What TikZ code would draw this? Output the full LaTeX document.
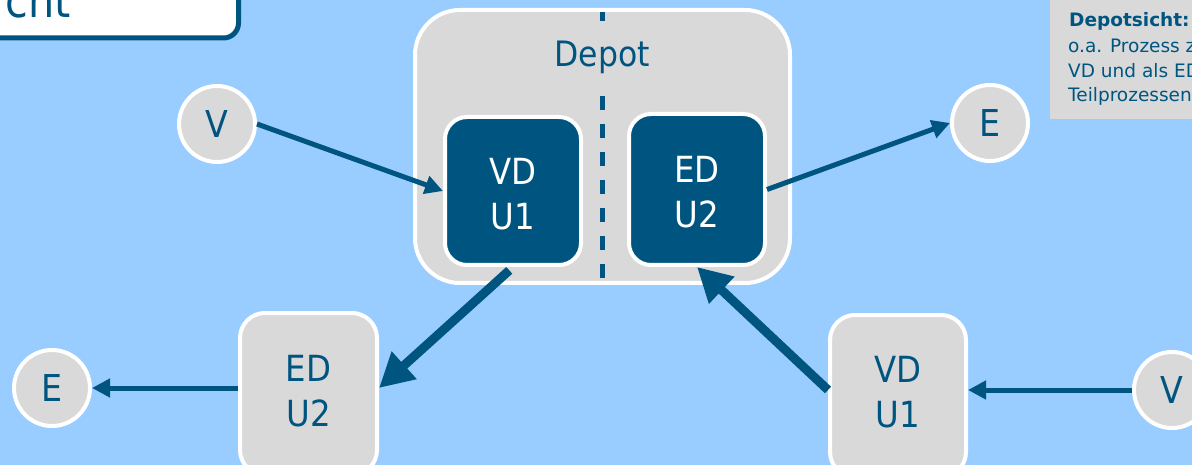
\documentclass[tikz,border=0pt]{standalone}
\usepackage{fontspec}
\setmainfont{DejaVu Sans Condensed}
\newfontfamily\notefont{DejaVu Sans}
\usetikzlibrary{arrows.meta,calc}
\definecolor{bgblue}{RGB}{153,204,255}
\definecolor{dkblue}{RGB}{0,85,128}
\definecolor{ltgray}{RGB}{217,217,217}
\newcommand\myfs[2]{\fontsize{#1}{#2}\selectfont}
\begin{document}
\begin{tikzpicture}[x=1pt,y=-1pt,
  wbox/.style={draw=white, line width=4pt, rectangle, inner sep=0pt},
  circ/.style={draw=white, line width=4pt, circle, fill=ltgray, minimum size=76pt, inner sep=0pt, text=dkblue, font=\myfs{37}{45}},
  lbltext/.style={inner sep=0pt, align=center, font=\myfs{36}{45}},
  notetext/.style={anchor=base west, inner sep=0pt, text=dkblue, font=\notefont\myfs{18.5}{25}},
  thinarrow/.style={draw=dkblue, line width=5pt, -{Triangle[length=18pt,width=18pt]}},
  thickarrow/.style={draw=dkblue, line width=9pt, -{Triangle[length=34pt,width=35pt]}}
]
\useasboundingbox (0,0) rectangle (1192,465);
\fill[bgblue] (0,0) rectangle (1192,465);

% top-left title box
\node[draw=dkblue, fill=white, line width=5pt, rounded corners=15pt, anchor=south east,
      minimum width=300pt, minimum height=100pt, inner sep=0pt] (title) at (241,40.5) {};
\node[anchor=base east, inner sep=0pt, text=dkblue, font=\myfs{46}{50}] (titletext) at (71,18) {cht};

% top-right note box
\node[fill=ltgray, anchor=north west, minimum width=160pt, minimum height=119pt, inner sep=0pt] (note) at (1050,0) {};
\node[notetext, font=\notefont\bfseries\myfs{18.5}{25}] (n1) at (1069,27) {Depotsicht:};
\node[notetext] (n2) at (1068,53) {o.a. Prozess z};
\node[notetext] (n3) at (1068,78) {VD und als ED};
\node[notetext] (n4) at (1068,102) {Teilprozessen};

% depot
\node[wbox, fill=ltgray, rounded corners=45pt, minimum width=375pt, minimum height=273pt] (depot) at (602.5,146.5) {};
\coordinate (dtop) at (602,12);
\coordinate (dbot) at (602,278);
\draw[dkblue, line width=5pt, dash pattern=on 14pt off 14pt] (dtop) -- (dbot);
\node[anchor=base, fill=ltgray, inner xsep=2pt, inner ysep=20pt, text=dkblue, font=\myfs{35}{40}] (depotlbl) at (602,67) {Depot};

% inner boxes
\node[wbox, fill=dkblue, rounded corners=22pt, minimum width=136pt, minimum height=148pt] (vdin) at (513,191) {};
\node[lbltext, text=white] (vdinT) at (513,194.4) {VD\\U1};
\node[wbox, fill=dkblue, rounded corners=22pt, minimum width=136pt, minimum height=151pt] (edin) at (697,189.5) {};
\node[lbltext, text=white] (edinT) at (697,192) {ED\\U2};

% bottom boxes
\node[wbox, fill=ltgray, rounded corners=25pt, minimum width=137pt, minimum height=162pt] (edb) at (308.5,394) {};
\node[lbltext, text=dkblue] (edbT) at (308.5,391.4) {ED\\U2};
\node[wbox, fill=ltgray, rounded corners=25pt, minimum width=136pt, minimum height=162pt] (vdb) at (898,396) {};
\node[lbltext, text=dkblue] (vdbT) at (898,392.4) {VD\\U1};

% circles
\node[circ] (vl) at (217,124) {V};
\node[circ] (etr) at (990,123) {E};
\node[circ] (ebl) at (52,388) {E};
\node[circ] (vr) at (1172,390) {V};

% thin arrows
\draw[thinarrow] (vl.east) -- (vdin.west);
\draw[thinarrow] (edin.east) -- (etr.west);
\draw[thinarrow] (ebl.east -| edb.west) -- (ebl.east);
\draw[thinarrow] (vr.west) -- (vr.west -| vdb.east);

% thick arrows
\draw[thickarrow, shorten <=5pt] (vdin.south) -- (edb.east |- ebl.center);
\draw[thickarrow] (vdb.west |- vr.center) -- (edin.south);
\end{tikzpicture}
\end{document}
